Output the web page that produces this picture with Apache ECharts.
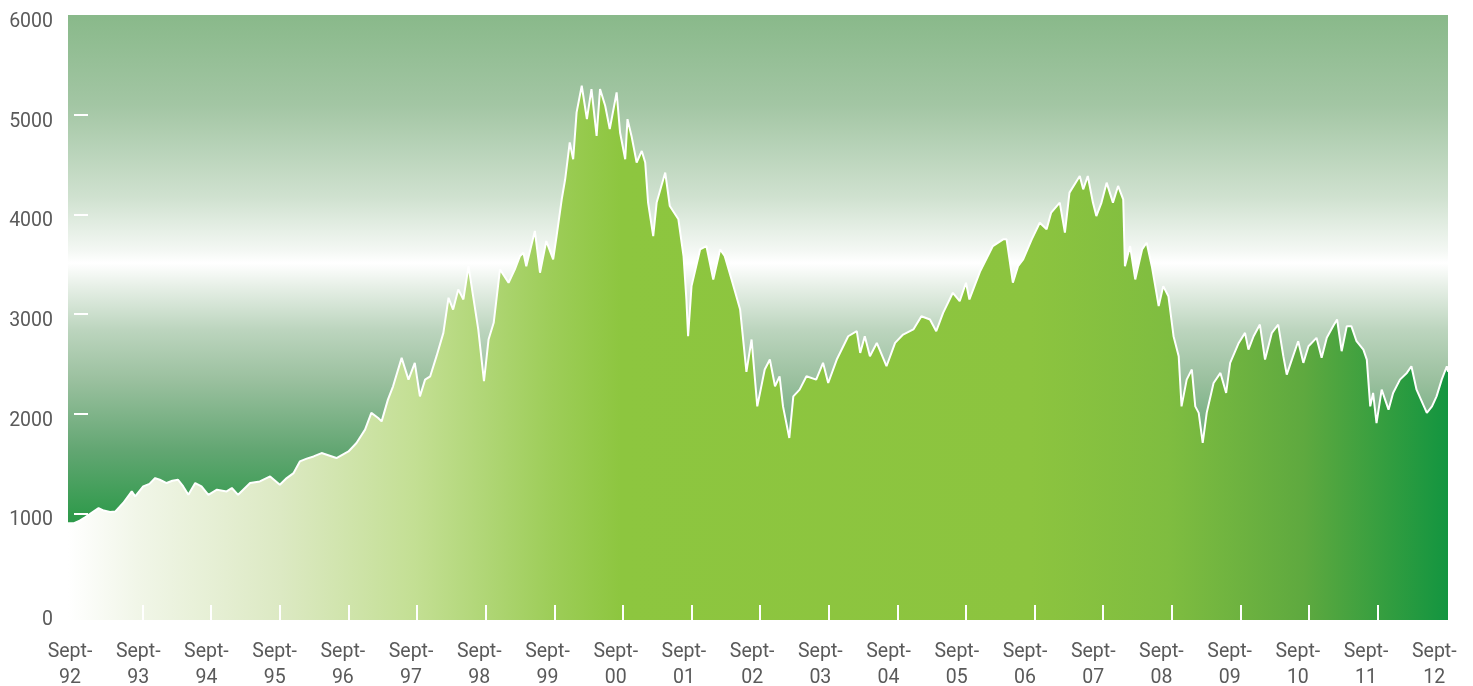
<!DOCTYPE html>
<html>
<head>
<meta charset="utf-8">
<script src="https://cdn.jsdelivr.net/npm/echarts@6/dist/echarts.min.js"></script>
<style>
html,body{margin:0;padding:0;background:#ffffff;}
#chart{width:1473px;height:686px;}
</style>
</head>
<body>
<div id="chart"></div>
<script>
// Months elapsed since September 1992
const monthsSinceSep92 = [
  -1.05, 0, 1, 2, 3.4, 4.3, 5.2, 6.3, 7.2, 8.6, 10.1, 10.7, 12.1, 13.2, 14.2, 15, 16.2, 17.2, 18.2, 19.1,
  20, 21.2, 22.3, 23.5, 25, 26.7, 27.6, 28.7, 30.8, 32.5, 34.3, 36, 37.2, 38.4, 39.5, 40.7, 41.9, 43.3, 45.9, 48,
  49.4, 50.9, 52, 53.2, 53.8, 54.9, 55.8, 57.3, 58.5, 59.6, 60.5, 61.4, 62.3, 63.4, 64.6, 65.5, 66.3, 67.2, 68.1, 69,
  69.8, 70.7, 71.7, 72.5, 73.4, 74.5, 76, 77.1, 78, 78.6, 79.1, 80.6, 81.5, 82.6, 83.8, 84.4, 85.3, 85.9, 86.7, 87.3,
  87.9, 88.8, 89.7, 90.5, 91.4, 92, 92.9, 93.7, 94.9, 95.5, 96.4, 96.8, 97.5, 98.4, 99.3, 99.9, 100.4, 101.3, 101.9, 103.4,
  104.2, 105.7, 106.6, 107.1, 107.4, 108, 109.5, 110.6, 111.8, 113, 113.8, 115, 116.5, 117.6, 118.5, 119.5, 120.8, 121.7, 122.6, 123.4,
  124, 125.1, 125.8, 126.9, 128.1, 129.8, 131, 131.9, 133.4, 135.4, 136.9, 137.5, 138.3, 139.2, 140.4, 142.1, 143.6, 145, 146.8, 148.2,
  149.7, 150.8, 152, 153.7, 154.9, 156, 156.6, 158.5, 160.7, 162.5, 163.1, 164.2, 165.1, 166, 167.5, 168.9, 170.1, 170.9, 172.4, 173.3,
  174.1, 175.9, 176.5, 177.3, 178.2, 178.8, 179.7, 180.6, 181.7, 182.6, 183.5, 183.8, 184.7, 185.6, 186.8, 187.6, 188.5, 189.7, 190.5, 191.4,
  192.3, 193.2, 193.7, 194.6, 195.5, 196.1, 196.7, 197.4, 198.1, 199.3, 200.5, 201.5, 202.2, 203.7, 204.8, 205.4, 206.3, 207.4, 208.3, 209.5,
  210.6, 211.5, 212.1, 213.2, 214.1, 215, 215.9, 217.3, 218.2, 219.1, 220.2, 220.9, 221.7, 222.6, 223.4, 224.3, 225.5, 226.1, 226.7, 227.2,
  227.8, 228.7, 229.9, 230.7, 231.9, 233.1, 233.9, 234.8, 236.6, 237.5, 238.3, 239.2, 240.1, 240.3
];
// Index level
const indexValues = [
  900, 901, 927, 962, 1018, 1053, 1028, 1013, 1018, 1104, 1220, 1170, 1270, 1296, 1354, 1337, 1304, 1327, 1337, 1270,
  1186, 1304, 1270, 1186, 1237, 1220, 1254, 1186, 1304, 1320, 1370, 1287, 1354, 1404, 1521, 1549, 1571, 1605, 1555, 1621,
  1706, 1840, 2008, 1957, 1923, 2141, 2275, 2560, 2342, 2510, 2174, 2342, 2375, 2577, 2811, 3163, 3045, 3247, 3146, 3480,
  3179, 2845, 2326, 2744, 2912, 3448, 3314, 3448, 3582, 3615, 3480, 3833, 3414, 3732, 3548, 3782, 4151, 4352, 4721, 4553,
  5023, 5290, 4955, 5257, 4787, 5257, 5089, 4855, 5223, 4821, 4553, 4955, 4787, 4520, 4636, 4520, 4118, 3782, 4118, 4419,
  4083, 3950, 3582, 3146, 2777, 3280, 3648, 3682, 3347, 3648, 3582, 3347, 3045, 2420, 2744, 2073, 2443, 2543, 2275, 2375,
  2073, 1756, 2174, 2241, 2375, 2342, 2510, 2308, 2543, 2777, 2828, 2610, 2777, 2577, 2710, 2476, 2710, 2794, 2845, 2978,
  2945, 2828, 3012, 3213, 3129, 3314, 3146, 3432, 3682, 3749, 3749, 3314, 3480, 3548, 3749, 3916, 3850, 4018, 4118, 3816,
  4218, 4385, 4251, 4385, 4118, 3983, 4118, 4318, 4118, 4285, 4151, 3480, 3682, 3347, 3648, 3715, 3480, 3079, 3280, 3179,
  2777, 2577, 2073, 2342, 2443, 2073, 2008, 1706, 2008, 2308, 2409, 2208, 2510, 2710, 2811, 2643, 2777, 2894, 2543, 2811,
  2894, 2577, 2392, 2577, 2727, 2510, 2677, 2761, 2560, 2761, 2878, 2945, 2627, 2878, 2878, 2727, 2643, 2543, 2073, 2208,
  1906, 2241, 2040, 2208, 2342, 2409, 2476, 2241, 2008, 2073, 2174, 2342, 2476, 2420
];
const yearLabels = ['92','93','94','95','96','97','98','99','00','01','02','03','04','05','06','07','08','09','10','11','12'];
const yTickValues = [0, 1000, 2000, 3000, 4000, 5000, 6000];

const seriesData = monthsSinceSep92.map((m, i) => [m, indexValues[i]]);
const tickMonths = yearLabels.map((_, i) => i * 12).filter((m, i) => i > 0 && i < yearLabels.length - 1);
const labelMonths = yearLabels.map((_, i) => i * 11.93 - 0.7);

const chart = echarts.init(document.getElementById('chart'), null, {renderer: 'canvas'});
const font = 'Roboto, "Open Sans", sans-serif';

chart.setOption({
  animation: false,
  grid: {
    left: 68, right: 25, top: 15, bottom: 66,
    containLabel: false,
    outerBoundsMode: 'none',
    show: true, borderWidth: 0,
    backgroundColor: new echarts.graphic.LinearGradient(0, 0, 0, 1, [
      {offset: 0, color: '#89b98a'},
      {offset: 0.15, color: '#a3c6a4'},
      {offset: 0.3, color: '#cfe1cf'},
      {offset: 0.39, color: '#f4f8f4'},
      {offset: 0.41, color: '#ffffff'},
      {offset: 0.45, color: '#e6efe6'},
      {offset: 0.52, color: '#bcd5be'},
      {offset: 0.6, color: '#9cc1a0'},
      {offset: 0.72, color: '#62a672'},
      {offset: 0.83, color: '#2f9a4b'},
      {offset: 1, color: '#14903f'}
    ])
  },
  xAxis: {
    type: 'value',
    min: -1.05, max: 240.3,
    z: 10,
    splitLine: {show: false},
    axisLine: {show: false, onZero: false},
    axisTick: {
      show: true, inside: true, length: 15,
      lineStyle: {color: '#ffffff', width: 2},
      customValues: tickMonths
    },
    axisLabel: {
      customValues: labelMonths,
      formatter: v => 'Sept-\n' + yearLabels[Math.round((v + 0.7) / 11.93)],
      color: '#5a5a5a', fontSize: 19.5, fontFamily: font,
      lineHeight: 26, margin: 19, align: 'center'
    }
  },
  yAxis: {
    type: 'value',
    min: -70, max: 6000,
    z: 10,
    splitLine: {show: false},
    axisLine: {show: false},
    axisTick: {
      show: true, inside: true, length: 14,
      lineStyle: {color: '#ffffff', width: 2},
      customValues: yTickValues.slice(1, 6)
    },
    axisLabel: {
      customValues: yTickValues,
      formatter: v => String(v),
      color: '#5a5a5a', fontSize: 19.5, fontFamily: font,
      margin: 15, verticalAlign: 'top', lineHeight: 14
    }
  },
  series: [{
    type: 'line',
    data: seriesData,
    showSymbol: false,
    symbol: 'none',
    smooth: false,
    z: 2,
    lineStyle: {color: '#ffffff', width: 2},
    areaStyle: {
      origin: 'start',
      opacity: 1,
      color: new echarts.graphic.LinearGradient(0, 0, 1, 0, [
        {offset: 0, color: '#ffffff'},
        {offset: 0.05, color: '#f1f6e8'},
        {offset: 0.154, color: '#dce9c3'},
        {offset: 0.252, color: '#c3df93'},
        {offset: 0.302, color: '#b0d676'},
        {offset: 0.351, color: '#9dcd58'},
        {offset: 0.401, color: '#8dc63f'},
        {offset: 0.698, color: '#8cc43f'},
        {offset: 0.797, color: '#7fbd40'},
        {offset: 0.896, color: '#5ea93f'},
        {offset: 1, color: '#139540'}
      ])
    }
  }]
});
</script>
</body>
</html>
